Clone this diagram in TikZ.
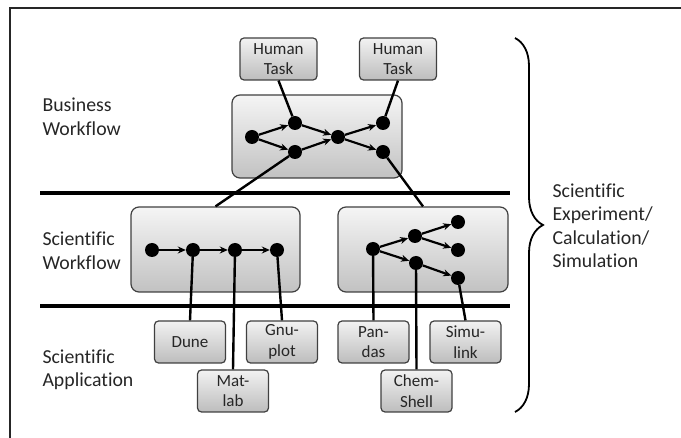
\documentclass[tikz,border=0pt]{standalone}
\usepackage{fontspec}
\setmainfont{Carlito}[Ligatures=NoCommon]
\usetikzlibrary{arrows.meta, positioning, decorations.pathreplacing}

\begin{document}
\begin{tikzpicture}[
    x=1pt, y=-1pt,
    flowbox/.style={draw=black!75, line width=1.2pt, rounded corners=8pt,
                    top color=black!4, bottom color=black!24},
    task/.style={draw=black!75, line width=1.2pt, rounded corners=4pt,
                 top color=black!5, bottom color=black!26, minimum width=71pt,
                 minimum height=42pt, align=center, inner sep=1pt,
                 text=black!85, font=\fontsize{17}{20.5}\selectfont},
    dot/.style={circle, fill=black, inner sep=0pt, minimum size=14pt},
    arr/.style={-{Stealth[length=8pt, width=7pt]}, line width=2.2pt},
    link/.style={line width=2.4pt},
    layer/.style={line width=3.5pt},
    lbl/.style={anchor=west, align=left, text=black!85,
                font=\fontsize{19.8}{23.5}\selectfont}
  ]
  \clip (0,0) rectangle (681,438);
  % Frame
  \draw[line width=2pt, black!85] (10,445) -- (10,8) -- (690,8);
  % Layer separators
  \draw[layer] (40,193) -- (510,193);
  \draw[layer] (40,306) -- (510,306);
  % Layer labels
  \node[lbl] (lbiz) at (39,117) {Business\\Workflow};
  \node[lbl] (lsci) at (39,251) {Scientific\\Workflow};
  \node[lbl] (lapp) at (39,370) {Scientific\\Application};
  % Workflow boxes
  \node[flowbox, minimum width=170pt, minimum height=83pt] (bw) at (317,136.5) {};
  \node[flowbox, minimum width=169pt, minimum height=85pt] (swA) at (215.5,249.5) {};
  \node[flowbox, minimum width=170pt, minimum height=85pt] (swB) at (423,249.5) {};
  % Human tasks
  \node[task, minimum width=77pt] (ht1) at (278.5,59) {Human\\Task};
  \node[task, minimum width=77pt] (ht2) at (398,59) {Human\\Task};
  % Applications
  \foreach \n/\x/\y/\txt in {dune/190/342/Dune, gnu/282/342/{Gnu-\\plot},
                             mat/233/391/{Mat-\\lab}, pan/373.5/342/{Pan-\\das},
                             simu/465.5/342/{Simu-\\link},
                             chem/416.5/391/{Chem-\\Shell}} {
    \node[task] (\n) at (\x,\y) {\txt};
  }
  % Activities
  \foreach \n/\x/\y in {b1/252/137, b2/295/123, b3/295/152, b4/338/137,
                        b5/383/123, b6/383/152,
                        a1/152/250, a2/193/250, a3/235/250, a4/277/250,
                        c1/373/249, c2/415/236, c3/416/263, c4/458/222,
                        c5/458/250, c6/458/278} {
    \node[dot] (\n) at (\x,\y) {};
  }
  \foreach \s/\t in {b1/b2, b1/b3, b2/b4, b3/b4, b4/b5, b4/b6,
                     a1/a2, a2/a3, a3/a4,
                     c1/c2, c1/c3, c2/c4, c2/c5, c3/c6} {
    \draw[arr] (\s) -- (\t);
  }
  % Links between layers
  \draw[link] (ht1.south) -- (b2);
  \draw[link] (ht2.south) -- (b5);
  \draw[link] (b3) -- (swA.north);
  \draw[link] (b6) -- (swB.north);
  \draw[link] (a2) -- (dune.north);
  \draw[link] (a3) -- (mat.north);
  \draw[link] (a4) -- (gnu.north);
  \draw[link] (c1) -- (pan.north);
  \draw[link] (c3) -- (chem.north);
  \draw[link] (c6) -- (simu.north);
  % Brace
  \draw[line width=1.8pt, decorate, decoration={brace, amplitude=28pt}]
    (515,38) -- (515,412);
  \node[lbl] (lexp) at (549,226) {Scientific\\Experiment/\\Calculation/\\Simulation};
\end{tikzpicture}
\end{document}
